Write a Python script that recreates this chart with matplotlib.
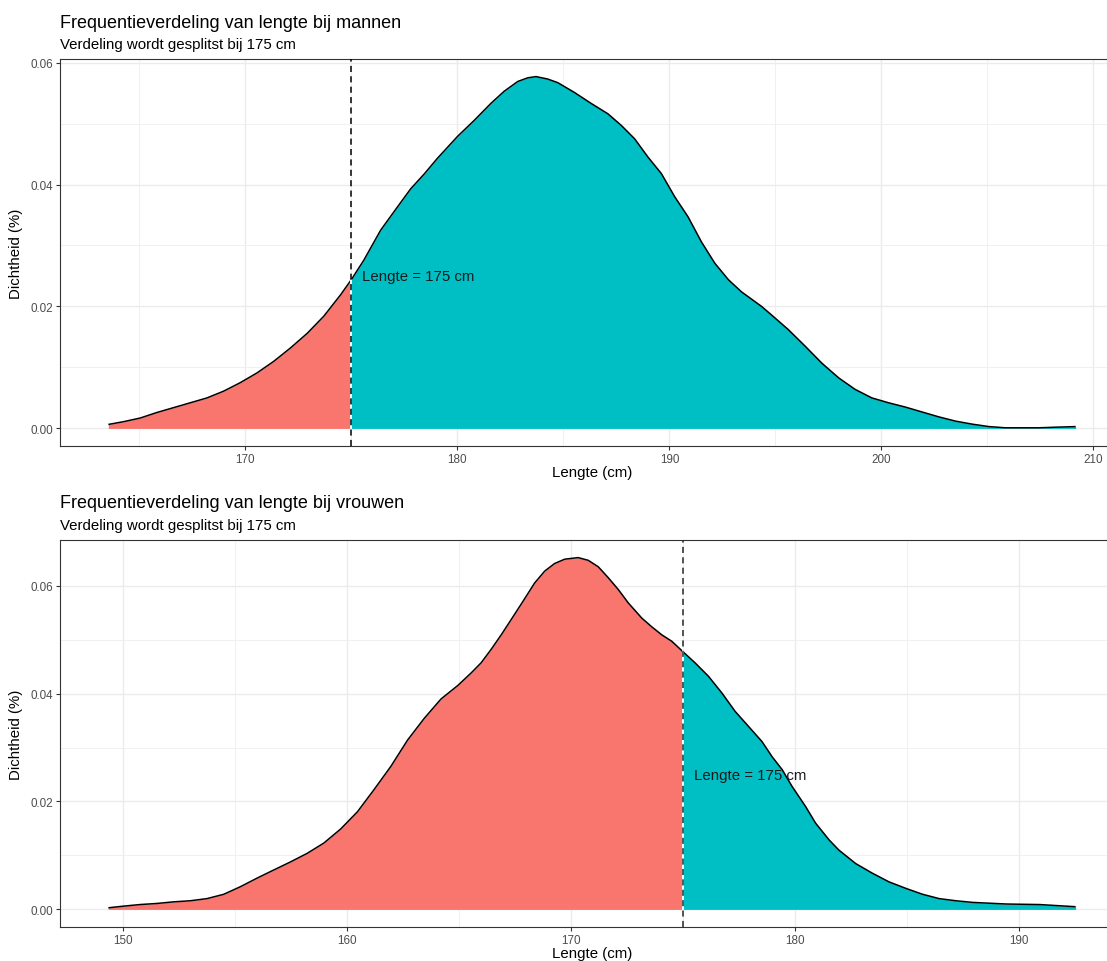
import matplotlib
matplotlib.use("Agg")
import matplotlib.pyplot as plt
from matplotlib.ticker import MultipleLocator, FormatStrFormatter
import numpy as np

plt.rcParams['font.family'] = ['Liberation Sans', 'DejaVu Sans']

# ---------------- data ----------------
split_cm = 175
label_text = "Lengte = 175 cm"
label_y = 0.025

titles = ["Frequentieverdeling van lengte bij mannen",
          "Frequentieverdeling van lengte bij vrouwen"]
subtitle = "Verdeling wordt gesplitst bij 175 cm"
x_label = "Lengte (cm)"
y_label = "Dichtheid (%)"

men_x = [163.54, 164.25, 165.04, 165.82, 166.61, 167.40, 168.19, 168.97, 169.76,
         170.55, 171.34, 172.13, 172.92, 173.70, 174.49, 175.00, 175.59, 176.38,
         177.17, 177.80, 178.43, 179.06, 180.01, 180.79, 181.58, 182.21, 182.85,
         183.32, 183.71, 184.26, 184.74, 185.52, 186.31, 187.10, 187.73, 188.36,
         188.99, 189.62, 190.25, 190.88, 191.51, 192.14, 192.78, 193.40, 194.35,
         194.82, 195.61, 196.40, 197.19, 197.98, 198.76, 199.55, 200.34, 201.13,
         201.91, 202.70, 203.49, 204.28, 205.07, 205.85, 206.64, 207.43, 208.22,
         209.16]
men_d = [0.00065, 0.0011, 0.0017, 0.0026, 0.0034, 0.0042, 0.0050, 0.0061, 0.0075,
         0.0091, 0.0110, 0.0132, 0.0156, 0.0184, 0.0219, 0.0244, 0.0276, 0.0325,
         0.0363, 0.0393, 0.0417, 0.0443, 0.0479, 0.0505, 0.0533, 0.0553, 0.0569,
         0.0575, 0.0577, 0.0573, 0.0567, 0.0551, 0.0533, 0.0516, 0.0497, 0.0475,
         0.0445, 0.0418, 0.0380, 0.0347, 0.0306, 0.0271, 0.0244, 0.0224, 0.0200,
         0.0186, 0.0162, 0.0135, 0.0107, 0.0083, 0.0064, 0.0050, 0.0042, 0.0035,
         0.0027, 0.0019, 0.0012, 0.0007, 0.0003, 0.0001, 0.0001, 0.0001, 0.0002,
         0.0003]

women_x = [149.36, 150.03, 150.77, 151.52, 152.27, 153.01, 153.76, 154.51, 155.25,
           156.00, 156.74, 157.49, 158.24, 158.98, 159.73, 160.48, 161.22, 161.97,
           162.72, 163.46, 164.21, 164.96, 165.55, 166.00, 166.45, 166.90,
           167.34, 167.87, 168.39, 168.84, 169.28, 169.73, 170.33, 170.78, 171.23,
           171.67, 172.12, 172.57, 173.17, 173.61, 174.06, 174.51, 175.00, 175.55,
           176.15, 176.75, 177.34, 177.94, 178.54, 178.99, 179.44, 179.88, 180.48,
           180.93, 181.53, 181.97, 182.72, 183.47, 184.21, 184.96, 185.71, 186.45,
           187.20, 187.94, 189.44, 190.93, 192.54]
women_d = [0.0003, 0.0006, 0.0009, 0.0011, 0.0014, 0.0016, 0.0020, 0.0028, 0.0042,
           0.0058, 0.0073, 0.0088, 0.0104, 0.0123, 0.0149, 0.0181, 0.0222, 0.0265,
           0.0314, 0.0354, 0.0390, 0.0415, 0.0438, 0.0457, 0.0482, 0.0509,
           0.0537, 0.0571, 0.0605, 0.0627, 0.0641, 0.0649, 0.0652, 0.0647, 0.0635,
           0.0615, 0.0593, 0.0568, 0.0540, 0.0524, 0.0509, 0.0497, 0.0478, 0.0457,
           0.0432, 0.0401, 0.0367, 0.0339, 0.0311, 0.0283, 0.0259, 0.0228, 0.0191,
           0.0160, 0.0129, 0.0110, 0.0085, 0.0067, 0.0051, 0.0039, 0.0028, 0.0020,
           0.0016, 0.0013, 0.0010, 0.0009, 0.0005]

col_low = "#F8766D"
col_high = "#00BFC4"

# ---------------- figure ----------------
W, H = 1107, 962
fig = plt.figure(figsize=(W / 100, H / 100), dpi=100)
fig.patch.set_facecolor("white")

def fx(px):
    return px / W

def fy(py):
    return 1 - py / H

panels = [
    dict(x=men_x, d=men_d, top=60, bottom=447),
    dict(x=women_x, d=women_d, top=541, bottom=928),
]

for i, p in enumerate(panels):
    x = np.array(p["x"])
    d = np.array(p["d"])
    ax = fig.add_axes([fx(60), fy(p["bottom"]), fx(1124 - 60), (p["bottom"] - p["top"]) / H])
    ax.set_facecolor("white")

    # limits with ggplot-like 5% expansion
    xr = x.max() - x.min()
    ax.set_xlim(x.min() - 0.05 * xr, x.max() + 0.05 * xr)
    yr = d.max()
    ax.set_ylim(-0.05 * yr, d.max() + 0.05 * yr)

    # grid
    ax.xaxis.set_major_locator(MultipleLocator(10))
    ax.xaxis.set_minor_locator(MultipleLocator(5))
    ax.yaxis.set_major_locator(MultipleLocator(0.02))
    ax.yaxis.set_minor_locator(MultipleLocator(0.01))
    ax.yaxis.set_major_formatter(FormatStrFormatter("%.2f"))
    ax.grid(which="major", color="#EBEBEB", lw=1.0, zorder=0)
    ax.grid(which="minor", color="#F0F0F0", lw=0.7, zorder=0)
    ax.set_axisbelow(True)

    # fills
    ax.fill_between(x, 0, d, where=x <= split_cm, color=col_low, lw=0, zorder=2)
    ax.fill_between(x, 0, d, where=x >= split_cm, color=col_high, lw=0, zorder=2)
    ax.plot(x, d, color="black", lw=1.1, zorder=3, solid_capstyle="butt",
            solid_joinstyle="round")

    # split line
    d_split = d[np.argmin(np.abs(x - split_cm))]
    ax.plot([split_cm, split_cm], [0, d_split], color="white", lw=1.4, zorder=4)
    ax.axvline(split_cm, color="black" if i == 0 else "#262626", lw=1.1,
               dashes=(4, 2.8), zorder=5)

    ax.text(split_cm + 0.5, label_y, label_text, ha="left", va="center",
            fontsize=10.8, color="#1a1a1a", zorder=6)

    # spines / ticks
    for s in ax.spines.values():
        s.set_color("#333333")
        s.set_linewidth(0.8)
    ax.tick_params(which="major", length=3, width=0.8, color="#333333",
                   labelsize=8.4, labelcolor="#4D4D4D", pad=2)
    ax.tick_params(which="minor", length=0)

    ax.set_xlabel(x_label, fontsize=10.8, color="black", labelpad=0.3)
    ax.set_ylabel(y_label, fontsize=10.8, color="black", labelpad=5)

    off = p["top"] - 60
    fig.text(fx(60), fy(27.5 + off), titles[i], fontsize=13, ha="left",
             va="baseline", color="black")
    fig.text(fx(60), fy(49.5 + off), subtitle, fontsize=10.8, ha="left",
             va="baseline", color="black")

fig.savefig("out.png", dpi=100, facecolor="white")
